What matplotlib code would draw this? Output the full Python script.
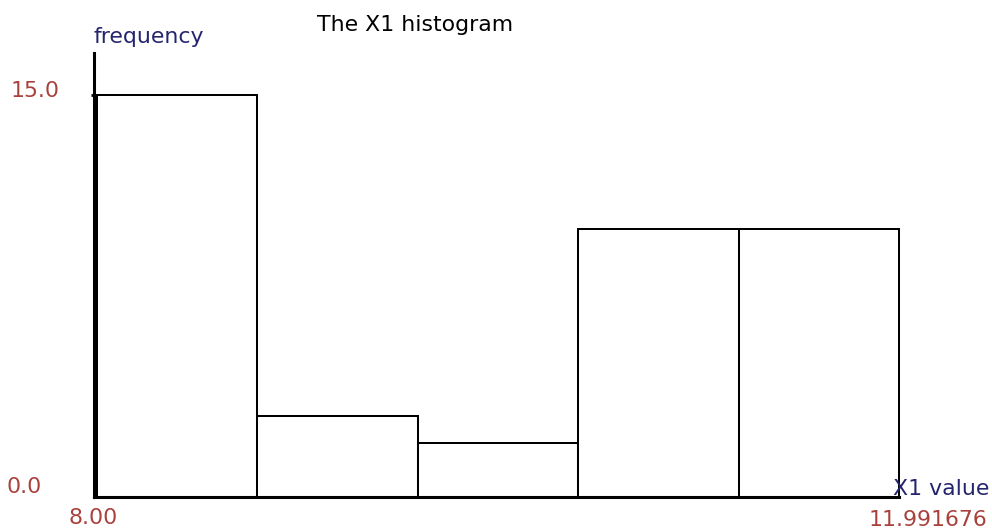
import numpy as np
import matplotlib
matplotlib.use("Agg")
import matplotlib.pyplot as plt

# histogram of X1: 5 equal-width bins between the min and max shown on the axis
X_MIN, X_MAX = 8.00, 11.991676
N_BINS = 5
COUNTS = [15, 3, 2, 10, 10]
Y_LABELS = ["0.0", "15.0"]
X_LABELS = ["8.00", "11.991676"]
TITLE = "The X1 histogram"

W, H = 992, 529
NAVY = "#25256e"
RED = "#a8403c"
FONT = "DejaVu Sans"


def px(x, y):
    # pixel coords (top-left origin) -> figure fraction
    return x / W, 1 - y / H


def main():
    edges = np.linspace(X_MIN, X_MAX, N_BINS + 1)
    width = edges[1] - edges[0]

    fig = plt.figure(figsize=(W / 100, H / 100), dpi=100)
    # axes frame: y-axis line at x=94px, baseline at y=496.5px, top of y-axis at 53px
    left, bottom = px(94, 496.5)
    right, top = px(899, 53)
    ax = fig.add_axes([left, bottom, right - left, top - bottom])

    px_per_unit_x = (899 - 97) / (X_MAX - X_MIN)
    ax.set_xlim(X_MIN - 3 / px_per_unit_x, X_MAX)
    px_per_unit_y = (496.5 - 95) / max(COUNTS)
    ax.set_ylim(0, (496.5 - 53) / px_per_unit_y)

    ax.bar(edges[:-1], COUNTS, width=width, align="edge", color="white",
           edgecolor="black", linewidth=1.45, zorder=2, clip_on=False)

    for s in ("top", "right"):
        ax.spines[s].set_visible(False)
    ax.spines["left"].set_linewidth(2.2)
    ax.spines["bottom"].set_linewidth(2.2)
    ax.spines["left"].set_zorder(3)
    ax.spines["bottom"].set_zorder(3)
    ax.set_xticks([])
    ax.set_yticks([max(COUNTS)])
    ax.set_yticklabels([])
    ax.tick_params(axis="y", length=2, width=2)

    fs = 15.8
    fig.text(*px(317, 31), TITLE, fontsize=fs, family=FONT, color="black",
             ha="left", va="baseline")
    fig.text(*px(93, 43), "frequency", fontsize=fs, family=FONT, color=NAVY,
             ha="left", va="baseline")
    fig.text(*px(989, 495), "X1 value", fontsize=fs, family=FONT, color=NAVY,
             ha="right", va="baseline")
    fig.text(*px(11, 97), Y_LABELS[1], fontsize=fs, family=FONT, color=RED,
             ha="left", va="baseline")
    fig.text(*px(7, 493), Y_LABELS[0], fontsize=fs, family=FONT, color=RED,
             ha="left", va="baseline")
    fig.text(*px(68, 524), X_LABELS[0], fontsize=fs, family=FONT, color=RED,
             ha="left", va="baseline")
    fig.text(*px(987, 526), X_LABELS[1], fontsize=fs, family=FONT, color=RED,
             ha="right", va="baseline")

    fig.savefig("out.png", dpi=100)
    plt.close(fig)


if __name__ == "__main__":
    main()
